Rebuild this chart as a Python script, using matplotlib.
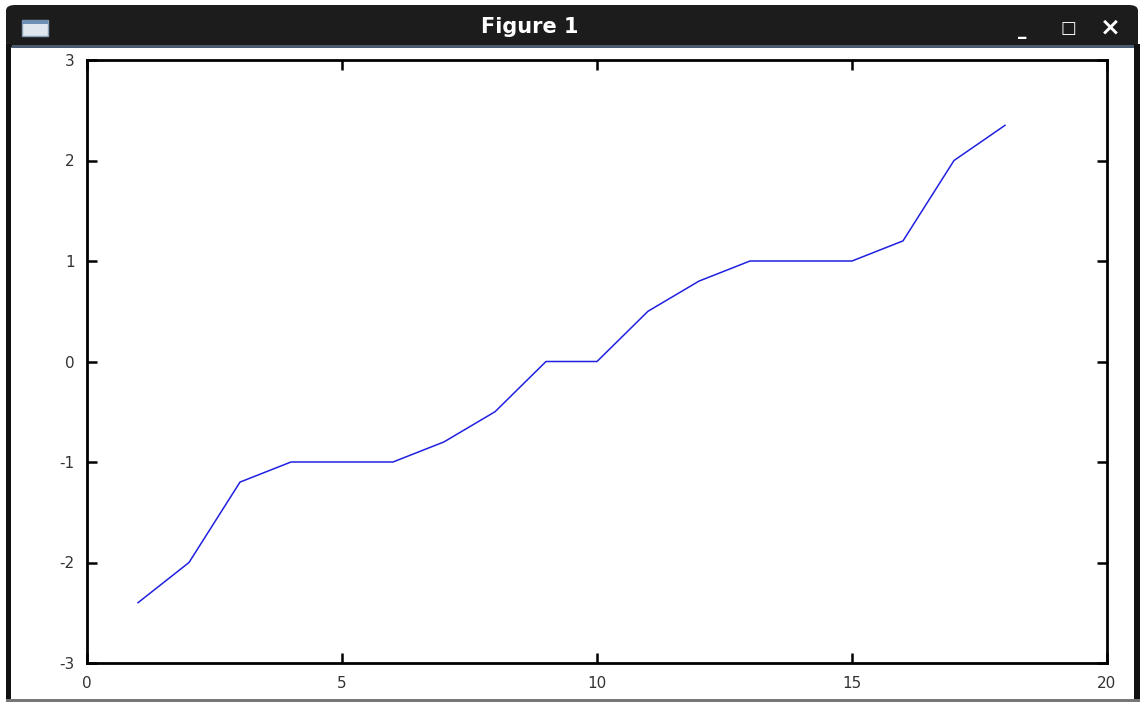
import matplotlib
matplotlib.use("Agg")
import matplotlib.pyplot as plt
from matplotlib.patches import Rectangle, FancyBboxPatch

plt.rcParams["axes.unicode_minus"] = False

# data
x = list(range(1, 19))
y = [-2.4, -2.0, -1.2, -1.0, -1.0, -1.0, -0.8, -0.5, 0.0, 0.0,
     0.5, 0.8, 1.0, 1.0, 1.0, 1.2, 2.0, 2.35]
xticks = [0, 5, 10, 15, 20]
yticks = [-3, -2, -1, 0, 1, 2, 3]

W, H = 1144, 702
fig = plt.figure(figsize=(W / 100, H / 100), dpi=100)
fig.patch.set_facecolor("white")


def fx(px):
    return px / W


def fy(py):
    return 1 - py / H


# window frame (title bar + borders)
fig.patches.append(FancyBboxPatch((fx(6), fy(48)), fx(1132), fy(5) - fy(48),
                                  boxstyle="round,pad=0,rounding_size=0.008",
                                  transform=fig.transFigure, facecolor="#1c1c1c",
                                  edgecolor="none", zorder=0))
fig.patches.append(Rectangle((fx(6), fy(700)), fx(5), fy(44) - fy(700),
                             transform=fig.transFigure, facecolor="#111111",
                             edgecolor="none", zorder=0))
fig.patches.append(Rectangle((fx(1134), fy(700)), fx(6), fy(44) - fy(700),
                             transform=fig.transFigure, facecolor="#111111",
                             edgecolor="none", zorder=0))
fig.patches.append(Rectangle((fx(6), fy(702)), fx(1134), fy(699) - fy(702),
                             transform=fig.transFigure, facecolor="#777777",
                             edgecolor="none", zorder=0))
fig.patches.append(Rectangle((fx(12), fy(48)), fx(1122), fy(45) - fy(48),
                             transform=fig.transFigure, facecolor="#4a5a70",
                             edgecolor="none", zorder=0))
# window icon
fig.patches.append(Rectangle((fx(22), fy(36)), fx(26), fy(20) - fy(36),
                             transform=fig.transFigure, facecolor="#dfe6ee",
                             edgecolor="#8aa0b8", lw=1, zorder=1))
fig.patches.append(Rectangle((fx(22), fy(24)), fx(26), fy(20) - fy(24),
                             transform=fig.transFigure, facecolor="#6f8fb5",
                             edgecolor="none", zorder=1))
fig.text(fx(530), fy(27), "Figure 1", color="white", fontsize=15,
         fontweight="bold", ha="center", va="center")
fig.text(fx(1022), fy(30), "_", color="white", fontsize=12,
         fontweight="bold", ha="center", va="center")
fig.text(fx(1068), fy(28), "\u25a1", color="white", fontsize=12,
         fontweight="bold", ha="center", va="center")
fig.text(fx(1110), fy(28), "\u00d7", color="white", fontsize=18,
         fontweight="bold", ha="center", va="center")

ax = fig.add_axes([fx(87), fy(663), fx(1107 - 87), fy(60) - fy(663)])
ax.plot(x, y, color="#2020e0", lw=1.1)
ax.set_xlim(0, 20)
ax.set_ylim(-3, 3)
ax.set_xticks(xticks)
ax.set_yticks(yticks)
ax.tick_params(direction="in", length=7, width=1.8, top=True, right=True,
               labelsize=11, labelcolor="#333333")
ax.tick_params(axis="x", pad=9)
ax.tick_params(axis="y", pad=9)
for s in ax.spines.values():
    s.set_linewidth(2)

fig.savefig("out.png", dpi=100)
